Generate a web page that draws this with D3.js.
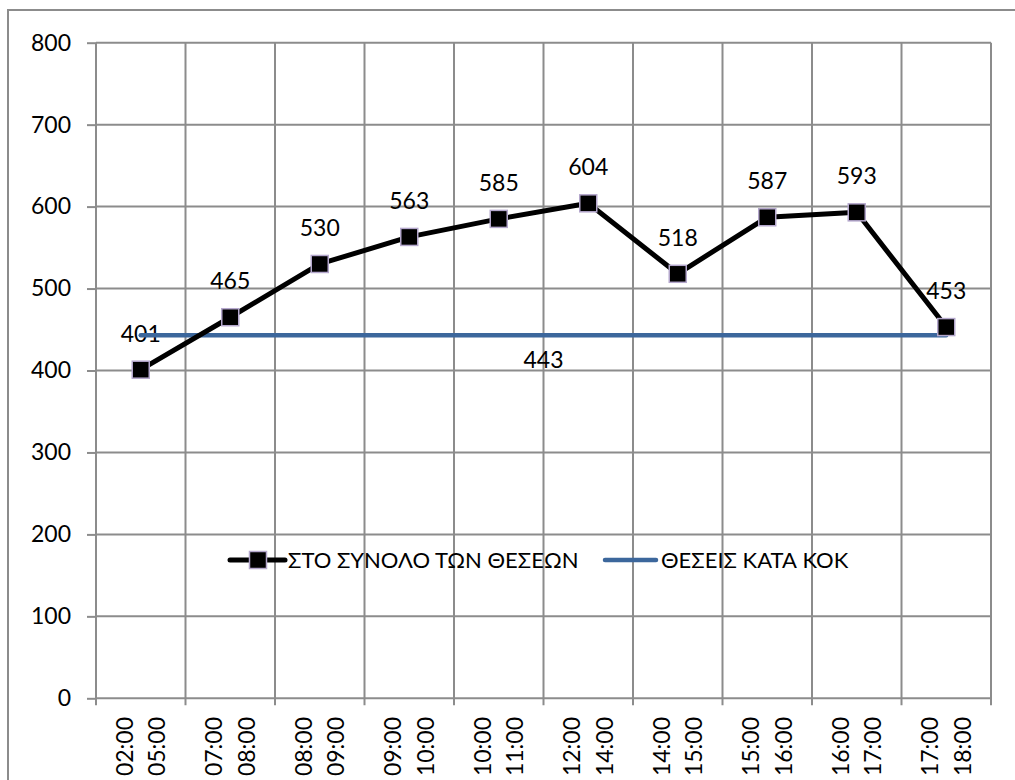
<!DOCTYPE html>
<html>
<head>
<meta charset="utf-8">
<script src="https://cdn.jsdelivr.net/npm/d3@7.9.0/dist/d3.min.js"></script>
<style>
  body { margin: 0; background: #fff; }
  text { font-family: Lato, "Open Sans", sans-serif; fill: #000; }
</style>
</head>
<body>
<svg id="chart" width="1015" height="780"></svg>
<script>
// data
const categories = ["02:00 05:00", "07:00 08:00", "08:00 09:00", "09:00 10:00", "10:00 11:00",
                    "12:00 14:00", "14:00 15:00", "15:00 16:00", "16:00 17:00", "17:00 18:00"];
const totalSeats = [401, 465, 530, 563, 585, 604, 518, 587, 593, 453];
const kokSeats = [443, 443, 443, 443, 443, 443, 443, 443, 443, 443];
const yTicks = [0, 100, 200, 300, 400, 500, 600, 700, 800];
const seriesNames = ["ΣΤΟ ΣΥΝΟΛΟ ΤΩΝ ΘΕΣΕΩΝ", "ΘΕΣΕΙΣ ΚΑΤΑ ΚΟΚ"];

const svg = d3.select('#chart');
const plotLeft = 96, plotRight = 991, plotTop = 42.7, plotBottom = 698.3;
const grid = '#8c8c8c';
const fs = 23;

// outer chart frame (runs off the right and bottom edges)
svg.append('rect')
  .attr('x', 8).attr('y', 10).attr('width', 1040).attr('height', 820)
  .attr('fill', 'none').attr('stroke', grid).attr('stroke-width', 2);

let x = d3.scaleBand().domain(categories).range([plotLeft, plotRight]).padding(0);
let y = d3.scaleLinear().domain([0, 800]).range([plotBottom, plotTop]);
const cx = (d) => x(d) + x.bandwidth() / 2;

// horizontal gridlines + y ticks
let yAxis = d3.axisLeft(y).tickValues(yTicks).tickSize(9).tickPadding(16);
let ya = svg.append('g').attr('transform', `translate(${plotLeft},0)`).call(yAxis);
ya.select('.domain').remove();
ya.selectAll('line').attr('stroke', grid).attr('stroke-width', 2);
ya.selectAll('text').attr('font-size', fs).style('font-family', 'Lato, "Open Sans", sans-serif');

svg.append('g').selectAll('line').data(yTicks).join('line')
  .attr('x1', plotLeft).attr('x2', plotRight)
  .attr('y1', (d) => y(d)).attr('y2', (d) => y(d))
  .attr('stroke', grid).attr('stroke-width', 2);

// vertical gridlines on category boundaries, with ticks below the axis
let bounds = categories.map((c) => x(c)).concat([plotRight]);
svg.append('g').selectAll('line').data(bounds).join('line')
  .attr('x1', (d) => d).attr('x2', (d) => d)
  .attr('y1', plotTop).attr('y2', plotBottom + 7)
  .attr('stroke', grid).attr('stroke-width', 2);

// rotated two-line category labels
let xl = svg.append('g');
categories.forEach((c) => {
  c.split(' ').forEach((part, i) => {
    let px = cx(c) + (i === 0 ? -16 : 16.5);
    xl.append('text')
      .attr('transform', `translate(${px},717) rotate(-90)`)
      .attr('text-anchor', 'end')
      .attr('dy', '0.35em')
      .attr('font-size', fs)
      .text(part);
  });
});

// data labels for the total series (drawn under the lines)
svg.append('g').selectAll('text').data(totalSeats).join('text')
  .attr('x', (d, i) => cx(categories[i]))
  .attr('y', (d) => y(d) - 36)
  .attr('dy', '0.35em')
  .attr('text-anchor', 'middle')
  .attr('font-size', fs)
  .text((d) => d);

// ΚΟΚ line
let line = d3.line().x((d, i) => cx(categories[i])).y((d) => y(d));
svg.append('path').datum(kokSeats)
  .attr('d', line)
  .attr('fill', 'none').attr('stroke', '#3c679c').attr('stroke-width', 4.5)
  .attr('stroke-linecap', 'round');

let mid = (cx(categories[0]) + cx(categories[categories.length - 1])) / 2;
svg.append('text')
  .attr('x', mid).attr('y', y(d3.mean(kokSeats)) + 25)
  .attr('dy', '0.35em').attr('text-anchor', 'middle')
  .attr('font-size', fs)
  .text(kokSeats[0]);

// total line with square markers
svg.append('path').datum(totalSeats)
  .attr('d', line)
  .attr('fill', 'none').attr('stroke', '#000').attr('stroke-width', 5)
  .attr('stroke-linejoin', 'round');

const ms = 17;
svg.append('g').selectAll('rect').data(totalSeats).join('rect')
  .attr('x', (d, i) => cx(categories[i]) - ms / 2)
  .attr('y', (d) => y(d) - ms / 2)
  .attr('width', ms).attr('height', ms)
  .attr('fill', '#000').attr('stroke', '#b4a7cc').attr('stroke-width', 1.5);

// legend
let lg = svg.append('g').attr('transform', 'translate(0,560)');
lg.append('line').attr('x1', 230).attr('x2', 285).attr('y1', 0).attr('y2', 0)
  .attr('stroke', '#000').attr('stroke-width', 5).attr('stroke-linecap', 'round');
lg.append('rect').attr('x', 258 - ms / 2).attr('y', -ms / 2).attr('width', ms).attr('height', ms)
  .attr('fill', '#000').attr('stroke', '#b4a7cc').attr('stroke-width', 1.5);
lg.append('text').attr('x', 288).attr('dy', '0.35em').attr('font-size', 22).text(seriesNames[0]);
lg.append('line').attr('x1', 605).attr('x2', 656).attr('y1', 0).attr('y2', 0)
  .attr('stroke', '#3c679c').attr('stroke-width', 4.5).attr('stroke-linecap', 'round');
lg.append('text').attr('x', 661).attr('dy', '0.35em').attr('font-size', 22).text(seriesNames[1]);
</script>
</body>
</html>
